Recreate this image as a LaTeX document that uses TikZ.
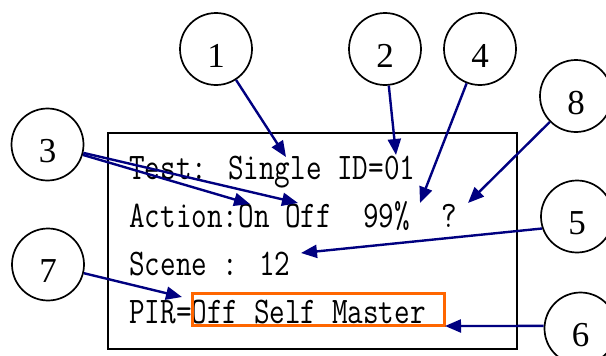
\documentclass[tikz,border=0pt]{standalone}
\usepackage{fontspec}
\usepackage{graphicx}
\usetikzlibrary{arrows.meta}
\newfontfamily\calloutfont{Liberation Serif}
\newfontfamily\lcdfont{lmmono12-regular}[Extension=.otf]
\definecolor{calloutnavy}{RGB}{0,0,128}
\definecolor{markorange}{RGB}{255,102,0}
% one row of the display, in a tall narrow monospace face
\newcommand\lcdline[1]{\scalebox{1}[1.24]{\fontsize{30.3}{36}\selectfont\lcdfont #1}}

\begin{document}
\begin{tikzpicture}[x=1pt,y=-1pt,
  callout/.style={circle, draw, line width=1.7pt, minimum size=72pt, inner sep=0pt,
    font=\fontsize{35}{35}\selectfont\calloutfont, text height=36pt, text depth=0pt},
  pointer/.style={draw=calloutnavy, line width=2.4pt, -{Triangle[length=16pt,width=13pt]}},
  lcdrow/.style={anchor=base west, inner sep=0pt},
]
\useasboundingbox (0,0) rectangle (606,356);
\clip (0,0) rectangle (606,356);

% display frame
\node[draw, line width=2pt, minimum width=409pt, minimum height=216.5pt, inner sep=0pt] (lcd) at (312,240.75) {};

% display rows
\node[lcdrow] (row1) at (129,179) {\lcdline{Test: Single ID=01}};
\node[lcdrow] (row2) at (129,227) {\lcdline{Action:On Off~~99\%~~?}};
\node[lcdrow] (row3) at (129,275) {\lcdline{Scene : 12}};
\node[lcdrow] (row4) at (129,323) {\lcdline{PIR=Off Self Master}};

% highlighted PIR setting
\node[draw=markorange, line width=3pt, minimum width=252pt, minimum height=32pt, inner sep=0pt] (sel) at (318,309) {};

% numbered callouts
\node[callout] (c1) at (216,49) {1};
\node[callout] (c2) at (385,49) {2};
\node[callout] (c4) at (480,49) {4};
\node[callout] (c8) at (576,96) {8};
\node[callout] (c3) at (47.5,144.5) {3};
\node[callout] (c7) at (48,264.5) {7};
\node[callout] (c5) at (577,216.5) {5};
\node[callout] (c6) at (580.5,328.5) {6};

% arrow targets
\coordinate (p1) at (286,157);
\coordinate (p2) at (396,155);
\coordinate (p4) at (420,203);
\coordinate (p8) at (468,203);
\coordinate (p3a) at (250,204);
\coordinate (p3b) at (298,203);
\coordinate (p7) at (182,297);
\coordinate (p5) at (301,253);
\coordinate (p6) at (445,326);

% pointers
\draw[pointer] (c1) -- (p1);
\draw[pointer] (c2) -- (p2);
\draw[pointer] (c4) -- (p4);
\draw[pointer] (c8) -- (p8);
\draw[pointer] (c3) -- (p3a);
\draw[pointer] (c3) -- (p3b);
\draw[pointer] (c7) -- (p7);
\draw[pointer] (c5.199) -- (p5);
\draw[pointer] (c6.176) -- (p6);
\end{tikzpicture}
\end{document}
